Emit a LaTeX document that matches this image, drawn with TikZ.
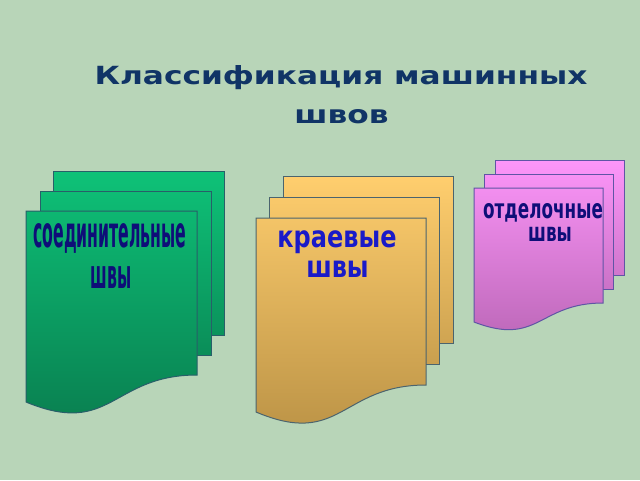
\documentclass[tikz,border=0pt]{standalone}
\usepackage{fontspec}
\setmainfont{DejaVu Sans}

\definecolor{bgcol}{RGB}{184,213,184}
\definecolor{titleblue}{RGB}{16,52,102}
\definecolor{greentop}{RGB}{14,194,120}
\definecolor{greenbot}{RGB}{9,124,78}
\definecolor{greenedge}{RGB}{40,95,105}
\definecolor{orangetop}{RGB}{255,206,110}
\definecolor{orangebot}{RGB}{184,144,68}
\definecolor{orangeedge}{RGB}{75,100,110}
\definecolor{pinktop}{RGB}{253,150,250}
\definecolor{pinkbot}{RGB}{186,102,182}
\definecolor{pinkedge}{RGB}{95,85,165}
\definecolor{navytext}{RGB}{14,14,120}
\definecolor{bluetext}{RGB}{26,26,200}

\begin{document}
\begin{tikzpicture}[x=1pt,y=-1pt,
	backsheet/.style={draw=#1edge,line width=1pt,top color=#1top,bottom color=#1bot!67!#1top},
	midsheet/.style={draw=#1edge,line width=1pt,top color=#1bot!8!#1top,bottom color=#1bot!75!#1top},
	frontsheet/.style={draw=#1edge,line width=1pt,top color=#1bot!16!#1top,bottom color=#1bot},
	titletext/.style={anchor=base,inner sep=0pt,xscale=1.25,text=titleblue,font=\bfseries\fontsize{25}{30}\selectfont},
	seamtext/.style={anchor=base,inner sep=0pt,font=\bfseries\fontsize{20}{24}\selectfont}]

			% Background of the slide
			\fill[bgcol] (0,0) rectangle (640,480);
			\useasboundingbox (0,0) rectangle (640,480);

			% Title, two lines
			\node[titletext] (title1) at (341,84) {Классификация машинных};
			\node[titletext] (title2) at (341.5,123) {швов};

			% Green stack of pages
			\draw[backsheet=green] (53,171) rectangle (224,335);
			\draw[midsheet=green] (40,191) rectangle (211,355);
			\draw[frontsheet=green] (26,211) -- (197,211) -- (197,375)
				.. controls (111.5,375) and (111.5,437.5) .. (26,402) -- cycle;

			% Orange stack of pages
			\draw[backsheet=orange] (283,176) rectangle (453,343);
			\draw[midsheet=orange] (269,197) rectangle (439,364);
			\draw[frontsheet=orange] (256,218) -- (426,218) -- (426,385)
				.. controls (341,385) and (341,448) .. (256,412) -- cycle;

			% Pink stack of pages
			\draw[backsheet=pink] (495,160) rectangle (624,275);
			\draw[midsheet=pink] (484,174) rectangle (613,289);
			\draw[frontsheet=pink] (474,188) -- (603,188) -- (603,303)
				.. controls (538.5,303) and (538.5,347) .. (474,322) -- cycle;

			% the labels on the front pages
			\node[seamtext,text=navytext,xscale=0.785,yscale=2.14] (join1) at (110,247) {соединительные};
			\node[seamtext,text=navytext,xscale=0.785,yscale=2.0] (join2) at (111,288) {швы};

			\node[seamtext,text=bluetext,font=\bfseries\fontsize{24}{30}\selectfont,yscale=1.25] (edge1) at (337,247) {краевые};
			\node[seamtext,text=bluetext,font=\bfseries\fontsize{24}{30}\selectfont,yscale=1.25] (edge2) at (337.5,277) {швы};

			\node[seamtext,text=navytext,xscale=0.84,yscale=1.34] (finish1) at (543,218) {отделочные};
			\node[seamtext,text=navytext,xscale=0.84,yscale=1.3] (finish2) at (550,241) {швы};

\end{tikzpicture}
\end{document}
